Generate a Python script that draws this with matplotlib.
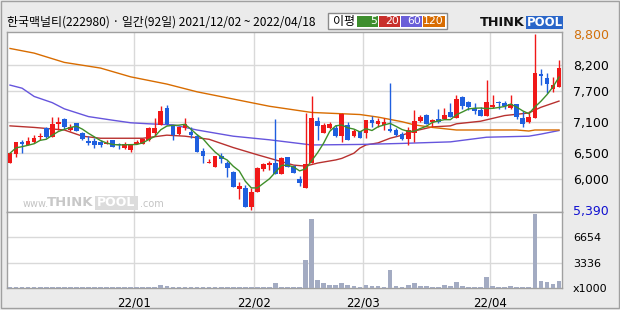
"""Daily candlestick chart with moving averages and volume (ThinkPool style)"""
import numpy as np
import pandas as pd
import matplotlib
matplotlib.use("Agg")
import matplotlib.pyplot as plt
from matplotlib.patches import Rectangle

plt.rcParams['font.family'] = ['DejaVu Sans']
KR = ['Noto Sans CJK KR', 'DejaVu Sans']

title = "한국맥널티(222980) · 일간(92일) 2021/12/02 ~ 2022/04/18"

# OHLC per trading day, 2021/12/02 .. 2022/04/18
opens  = [6300, 6480, 6710, 6650, 6710, 6800, 6980, 6810, 7060, 7150,
          6940, 7070, 6880, 6730, 6730, 6710, 6660, 6750, 6660, 6590,
          6550, 6660, 6660, 6750, 6880, 7040, 7360, 7020, 6860, 6980,
          6910, 6820, 6530, 6300, 6220, 6440, 6310, 6120, 5790, 5820,
          5450, 5740, 6180, 6260, 6300, 6090, 6410, 6240, 5990, 5820,
          6300, 7110, 6890, 6970, 6970, 6830, 7040, 6830, 6920, 6890,
          7130, 7060, 7040, 6960, 6940, 6860, 6760, 6880, 7120, 7230,
          7100, 7150, 7150, 7280, 7170, 7570, 7490, 7370, 7330, 7220,
          7380, 7490, 7470, 7360, 7440, 7170, 7100, 7180, 8020, 7950,
          7730, 7780]
highs  = [6490, 6700, 6750, 6800, 6840, 6880, 7000, 7200, 7190, 7170,
          7050, 7070, 6910, 6820, 6780, 6750, 6750, 6750, 6690, 6700,
          6660, 6750, 6770, 6990, 7170, 7400, 7420, 7040, 7000, 7170,
          6990, 6860, 6590, 6370, 6440, 6500, 6340, 6140, 5940, 5880,
          5810, 6230, 6310, 6330, 7150, 6420, 6420, 6260, 6040, 7260,
          7590, 7200, 7070, 7090, 7040, 7260, 7100, 6950, 6920, 7130,
          7220, 7170, 7180, 7860, 6970, 6910, 7000, 7330, 7240, 7250,
          7150, 7340, 7370, 7460, 7620, 7590, 7510, 7460, 7390, 7910,
          7620, 7500, 7510, 7620, 7440, 7300, 7300, 8800, 8120, 8050,
          7970, 8300]
lows   = [6300, 6420, 6500, 6650, 6690, 6750, 6790, 6810, 6940, 6950,
          6930, 6930, 6750, 6650, 6600, 6620, 6660, 6620, 6570, 6570,
          6520, 6660, 6660, 6730, 6820, 7040, 7040, 6750, 6840, 6940,
          6780, 6520, 6310, 6300, 6220, 6300, 6020, 5830, 5600, 5450,
          5390, 5740, 6150, 6170, 6090, 6090, 6230, 6110, 5860, 5820,
          6300, 6750, 6880, 6960, 6810, 6700, 6750, 6810, 6780, 6780,
          7000, 7000, 6940, 6910, 6820, 6750, 6650, 6700, 7100, 7050,
          7000, 7070, 7150, 7190, 7170, 7350, 7330, 7250, 7210, 7220,
          7360, 7340, 7350, 7350, 7150, 6990, 7070, 7180, 7810, 7660,
          7680, 7770]
closes = [6490, 6700, 6660, 6730, 6790, 6820, 6800, 7050, 7090, 7000,
          7000, 6930, 6760, 6690, 6650, 6650, 6690, 6620, 6640, 6670,
          6660, 6710, 6770, 6970, 6970, 7310, 7060, 6840, 6990, 7050,
          6840, 6520, 6440, 6320, 6440, 6380, 6210, 5840, 5860, 5450,
          5730, 6210, 6280, 6300, 6090, 6390, 6230, 6110, 5920, 6280,
          7180, 7020, 7040, 7050, 6820, 7250, 6750, 6920, 6780, 7130,
          7070, 7110, 7100, 6930, 6840, 6760, 6940, 7110, 7190, 7060,
          7130, 7090, 7230, 7190, 7540, 7400, 7380, 7300, 7210, 7490,
          7420, 7460, 7400, 7440, 7190, 7060, 7190, 8050, 7990, 7830,
          7810, 8140]
# volume in thousands of shares
volumes = [130, 130, 130, 130, 130, 130, 130, 130, 130, 130,
           130, 130, 130, 130, 130, 130, 130, 130, 130, 130,
           130, 130, 130, 130, 130, 400, 265, 130, 130, 130,
           130, 130, 130, 130, 130, 130, 130, 130, 130, 130,
           130, 130, 130, 130, 660, 130, 130, 130, 130, 3720,
           9020, 1060, 660, 400, 400, 660, 400, 265, 133, 400,
           265, 265, 133, 2390, 265, 133, 400, 660, 265, 265,
           133, 133, 400, 265, 800, 265, 133, 133, 133, 1460,
           265, 133, 133, 265, 133, 133, 133, 9690, 930, 800,
           530, 930]

# longer moving averages (day index, value)
ma20_idx = [0, 4, 7, 9, 12, 15, 22, 26, 29, 33, 37, 41, 44, 47, 49, 51, 54,
            55, 57, 58, 59, 61, 63, 65, 67, 70, 73, 74, 78, 82, 86, 88, 91]
ma20_val = [7020, 6990, 6960, 6940, 6820, 6780, 6780, 6840, 6820, 6760, 6600,
            6460, 6360, 6260, 6240, 6300, 6360, 6390, 6490, 6590, 6650, 6690,
            6780, 6840, 6920, 7000, 7020, 7060, 7110, 7220, 7270, 7380, 7500]
ma60_idx = [0, 2, 4, 7, 9, 13, 17, 20, 23, 27, 31, 37, 43, 50, 58, 65, 73,
            79, 86, 88, 91]
ma60_val = [7810, 7750, 7590, 7470, 7350, 7200, 7130, 7080, 7060, 7040, 6940,
            6820, 6750, 6650, 6660, 6680, 6710, 6800, 6820, 6860, 6930]
ma120_idx = [0, 4, 9, 15, 20, 26, 31, 37, 43, 50, 58, 61, 65, 67, 70, 74, 84,
             86, 87, 91]
ma120_val = [8520, 8430, 8250, 8140, 7970, 7830, 7680, 7540, 7400, 7280, 7240,
             7190, 7100, 7040, 6990, 6940, 6940, 6920, 6940, 6940]

month_starts = [21, 41, 59, 80]
month_labels = ["22/01", "22/02", "22/03", "22/04"]
price_ticks = [8800, 8200, 7700, 7100, 6500, 6000, 5390]
price_grid = [8200, 7700, 7100, 6500, 6000]
vol_ticks = [0, 3336, 6654]
vol_labels = ["x1000", "3336", "6654"]
ma_names = ["5", "20", "60", "120"]

UP, DOWN = '#f01818', '#1f5fdf'
MA_COLORS = ['#3f8f2a', '#b8312f', '#6655dd', '#d86c00']
BOX_COLORS = ['#3e8e2e', '#c8302c', '#6a5fd8', '#d86c00']
GRID = '#d9d9d9'
W, H = 620, 310


def fx(x):
    return x / W


def fy(y):
    return 1 - y / H


def add_rect(x0, y0, x1, y1, **kw):
    """Rectangle in pixel coords (top-left origin) on the figure"""
    fig.patches.append(Rectangle((fx(x0), fy(y1)), fx(x1 - x0), (y1 - y0) / H,
                                 transform=fig.transFigure, **kw))


fig = plt.figure(figsize=(6.2, 3.1), dpi=100)
fig.patch.set_facecolor('#ebebeb')

ax = fig.add_axes([fx(7), fy(212), fx(555), 180 / H])
axv = fig.add_axes([fx(7), fy(288), fx(555), 76 / H], sharex=ax)

o, h, l, c = map(np.array, (opens, highs, lows, closes))
x = np.arange(len(c))
up = c >= o
colors = np.where(up, UP, DOWN)

# candles
ax.vlines(x, l, h, colors=colors, lw=1.0, zorder=3)
body_lo = np.minimum(o, c)
body_h = np.maximum(np.abs(c - o), 18)
ax.bar(x, body_h, bottom=body_lo, width=0.78, color=colors, lw=0, zorder=4)

# moving averages
ma5 = pd.Series(c).rolling(5, min_periods=1).mean()
ax.plot(x, ma5, color=MA_COLORS[0], lw=1.0, zorder=5)
ax.plot(ma20_idx, ma20_val, color=MA_COLORS[1], lw=1.0, zorder=2)
ax.plot(ma60_idx, ma60_val, color=MA_COLORS[2], lw=1.0, zorder=2)
ax.plot(ma120_idx, ma120_val, color=MA_COLORS[3], lw=1.0, zorder=2)

for v in price_grid:
    ax.axhline(v, color=GRID, lw=1.0, zorder=0)
for m in month_starts:
    ax.axvline(m - 0.5, color=GRID, lw=1.0, zorder=0)
    axv.axvline(m - 0.5, color=GRID, lw=1.0, zorder=0)

ax.set_xlim(-0.5, len(c) - 0.5)
ax.set_ylim(5351, 8839)
ax.yaxis.tick_right()
ax.set_yticks(price_ticks)
ax.set_yticklabels([f"{v:,}" for v in price_ticks])
ax.tick_params(axis='y', length=0, pad=8, labelsize=9)
ax.tick_params(axis='x', length=0, labelbottom=False)
ax.get_yticklabels()[0].set_color('#d2700a')
ax.get_yticklabels()[-1].set_color('#1010d0')

# volume
axv.bar(x, volumes, width=0.78, color='#a3abc2', lw=0, zorder=3)
for v in vol_ticks[1:]:
    axv.axhline(v, color=GRID, lw=1.0, zorder=0)
axv.set_ylim(0, 9990)
axv.yaxis.tick_right()
axv.set_yticks(vol_ticks)
axv.set_yticklabels(vol_labels)
axv.tick_params(axis='y', length=0, pad=8, labelsize=8)
axv.set_xticks([m - 0.5 for m in month_starts])
axv.set_xticklabels(month_labels)
axv.tick_params(axis='x', length=0, pad=6, labelsize=8.5)

for a in (ax, axv):
    a.set_facecolor('white')
    for s in a.spines.values():
        s.set_color('#a0a0a0')
        s.set_linewidth(1.0)

# watermark inside the price panel
fig.text(fx(23), fy(204), "www.", fontsize=7, color='#c4c4c4', va='center')
fig.text(fx(47), fy(203), "THINK", fontsize=9.5, weight='bold', color='#c8c8c8', va='center')
add_rect(95, 196, 138, 210, facecolor='#dcdcdc', edgecolor='none', zorder=1)
fig.text(fx(116.5), fy(203), "POOL", fontsize=9, weight='bold', color='white',
         ha='center', va='center', zorder=2)
fig.text(fx(140), fy(204), ".com", fontsize=7, color='#c4c4c4', va='center')

# header
fig.text(fx(7), fy(22), title, fontsize=8.6, family=KR, va='center')
add_rect(328, 13, 447, 29, facecolor='white', edgecolor='#8a8a8a', lw=1.0)
fig.text(fx(333), fy(21.5), "이평", fontsize=8.6, family=KR, va='center')
box_x = [357, 379, 401, 423]
box_w = [21, 21, 21, 22]
for bx, bw, col, name in zip(box_x, box_w, BOX_COLORS, ma_names):
    add_rect(bx, 16, bx + bw, 27, facecolor=col, edgecolor='none')
    fig.text(fx(bx + bw - 1), fy(21.5), name, fontsize=7.8, color='white', ha='right', va='center')

fig.text(fx(480), fy(22.5), "THINK", fontsize=9.3, weight='bold', color='#111111', va='center')
add_rect(526, 16, 563, 28.5, facecolor='#2a66c9', edgecolor='none')
fig.text(fx(544.5), fy(22.5), "POOL", fontsize=8.5, weight='bold', color='white',
         ha='center', va='center')

add_rect(1, 1, 619, 308, facecolor='none', edgecolor='#a0a0a0', lw=1.0)

fig.savefig("out.png", dpi=100)
